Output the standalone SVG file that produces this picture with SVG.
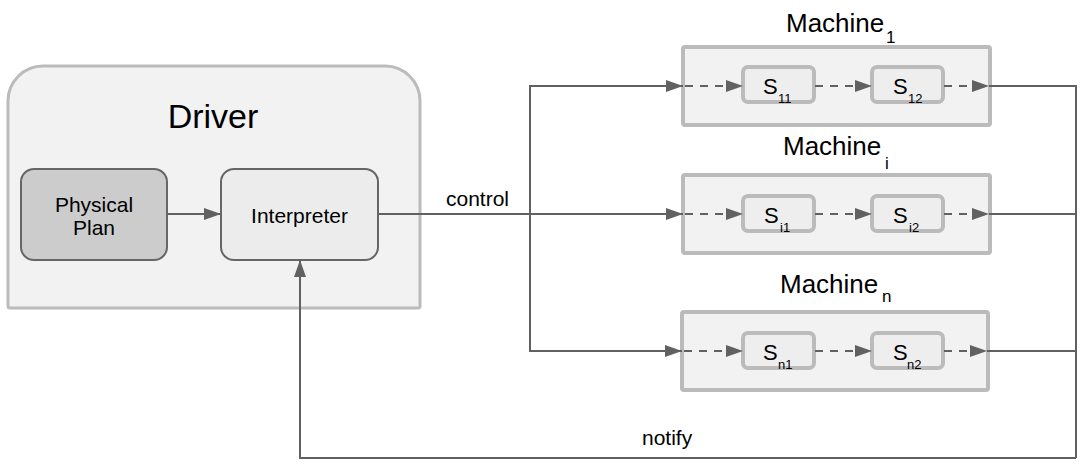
<svg xmlns="http://www.w3.org/2000/svg" width="1086" height="470" viewBox="0 0 1086 470">
<style>
text{font-family:"Liberation Sans",Arial,sans-serif;fill:#000}
.title{font-size:26px}
.sub{font-size:17px}
.s{font-size:22px}
.ss{font-size:13px}
.lbl{font-size:21px}
.machine{fill:#f2f2f2;stroke:#bbb;stroke-width:4}
.stage{fill:#eee;stroke:#bbb;stroke-width:4}
.conn{fill:none;stroke:#616161;stroke-width:2}
.dash{fill:none;stroke:#616161;stroke-width:2;stroke-dasharray:8 7}
</style>
<defs>
<marker id="arr" markerUnits="userSpaceOnUse" markerWidth="18" markerHeight="13" refX="17" refY="6" orient="auto" overflow="visible">
<path d="M0,0 L17,6 L0,12 Z" fill="#616161"/>
</marker>
</defs>

<g id="driver">
<path d="M8,306 L8,101 A35,35 0 0 1 43,66 L385,66 A35,35 0 0 1 420,101 L420,306 Q420,308 418,308 L10,308 Q8,308 8,306 Z" fill="#f2f2f2" stroke="#bbb" stroke-width="3"/>
<text x="213" y="128" text-anchor="middle" style="font-size:34px">Driver</text>
</g>

<g id="physical-plan">
<rect x="21" y="169" width="146" height="91" rx="13" fill="#ccc" stroke="#666" stroke-width="2"/>
<text x="94" y="212" text-anchor="middle" class="lbl">Physical</text>
<text x="94" y="235" text-anchor="middle" class="lbl">Plan</text>
</g>

<g id="interpreter">
<rect x="221" y="169" width="157" height="91" rx="13" fill="#ececec" stroke="#666" stroke-width="2"/>
<text x="299.5" y="223" text-anchor="middle" class="lbl">Interpreter</text>
</g>

<g id="machine1">
<rect class="machine" x="683" y="47" width="307" height="78" rx="2"/>
<text class="title" x="786" y="32">Machine</text>
<text class="sub" x="886" y="43">1</text>
<g id="s11">
<rect class="stage" x="743" y="67" width="71" height="35" rx="5"/>
<text class="s" x="763" y="94">S</text><text class="ss" x="778" y="103">11</text>
</g>
<g id="s12">
<rect class="stage" x="872" y="67" width="71" height="35" rx="5"/>
<text class="s" x="893" y="94">S</text><text class="ss" x="908" y="103">12</text>
</g>
</g>

<g id="machinei">
<rect class="machine" x="683" y="175" width="307" height="78" rx="2"/>
<text class="title" x="783" y="155">Machine</text>
<text class="sub" x="885" y="169">i</text>
<g id="si1">
<rect class="stage" x="743" y="196" width="71" height="35" rx="5"/>
<text class="s" x="764" y="223">S</text><text class="ss" x="780" y="232">i1</text>
</g>
<g id="si2">
<rect class="stage" x="872" y="196" width="71" height="35" rx="5"/>
<text class="s" x="893" y="223">S</text><text class="ss" x="909" y="232">i2</text>
</g>
</g>

<g id="machinen">
<rect class="machine" x="682" y="312" width="306" height="78" rx="2"/>
<text class="title" x="780" y="293">Machine</text>
<text class="sub" x="882" y="302">n</text>
<g id="sn1">
<rect class="stage" x="743" y="333" width="71" height="35" rx="5"/>
<text class="s" x="763" y="360">S</text><text class="ss" x="778" y="369">n1</text>
</g>
<g id="sn2">
<rect class="stage" x="872" y="333" width="71" height="35" rx="5"/>
<text class="s" x="893" y="360">S</text><text class="ss" x="907" y="369">n2</text>
</g>
</g>

<g id="connectors">
<line class="conn" x1="167" y1="214" x2="221" y2="214" marker-end="url(#arr)"/>
<path class="conn" d="M378,214 L683,214" marker-end="url(#arr)"/>
<path class="conn" d="M530,214 L530,86 L683,86" marker-end="url(#arr)"/>
<path class="conn" d="M530,214 L530,351 L682,351" marker-end="url(#arr)"/>
<text class="lbl" x="446" y="206">control</text>

<line class="dash" x1="685" y1="86" x2="743" y2="86" marker-end="url(#arr)"/>
<line class="dash" x1="815" y1="86" x2="872" y2="86" marker-end="url(#arr)"/>
<line class="dash" x1="944" y1="86" x2="989" y2="86" marker-end="url(#arr)"/>
<line class="dash" x1="685" y1="214" x2="743" y2="214" marker-end="url(#arr)"/>
<line class="dash" x1="815" y1="214" x2="872" y2="214" marker-end="url(#arr)"/>
<line class="dash" x1="944" y1="214" x2="989" y2="214" marker-end="url(#arr)"/>
<line class="dash" x1="684" y1="351" x2="743" y2="351" marker-end="url(#arr)"/>
<line class="dash" x1="815" y1="351" x2="872" y2="351" marker-end="url(#arr)"/>
<line class="dash" x1="944" y1="351" x2="987" y2="351" marker-end="url(#arr)"/>

<path class="conn" d="M989,86 L1076,86 L1076,458"/>
<line class="conn" x1="989" y1="214" x2="1076" y2="214"/>
<line class="conn" x1="987" y1="351" x2="1076" y2="351"/>
<path class="conn" d="M1076,458 L300,458 L300,260" marker-end="url(#arr)"/>
<text class="lbl" x="642" y="445">notify</text>
</g>
</svg>
